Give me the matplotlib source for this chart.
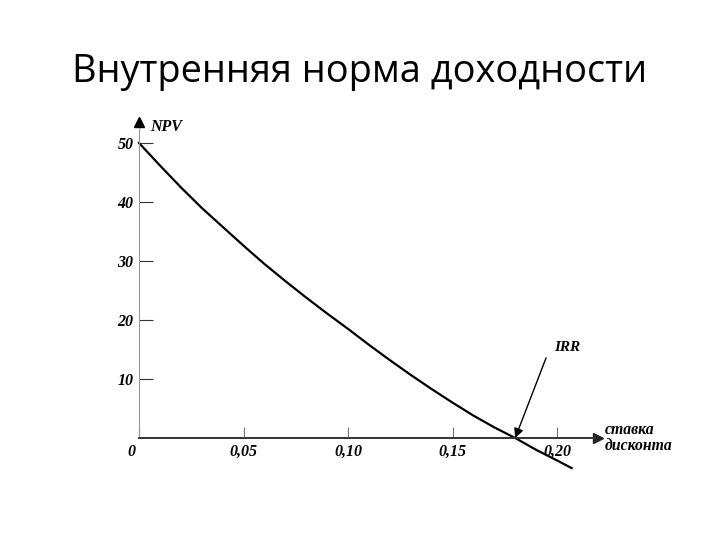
import matplotlib
matplotlib.use('Agg')
from matplotlib import pyplot as plt
from matplotlib import transforms

# данные
rate = [0.00, 0.01, 0.02, 0.03, 0.04, 0.05, 0.06, 0.07, 0.08, 0.09, 0.10,
        0.11, 0.12, 0.13, 0.14, 0.15, 0.16, 0.17, 0.18, 0.19, 0.20, 0.207]
npv = [50.0, 46.2, 42.5, 39.0, 35.8, 32.6, 29.5, 26.6, 23.8, 21.1, 18.5,
       15.8, 13.2, 10.7, 8.3, 6.0, 3.8, 1.8, 0.0, -2.0, -3.8, -5.1]
irr = 0.18
x_ticks = [0, 0.05, 0.10, 0.15, 0.20]
x_labels = ['0', '0,05', '0,10', '0,15', '0,20']
y_ticks = [10, 20, 30, 40, 50]
y_labels = ['10', '20', '30', '40', '50']

title = 'Внутренняя норма доходности'

serif = dict(family='Liberation Serif', style='italic', weight='bold')

fig = plt.figure(figsize=(7.2, 5.4), dpi=100)
fig.text(0.5, 1 - 82 / 540, title, ha='center', va='baseline',
         fontsize=27.4, family='Open Sans', color='black')

ax = fig.add_axes([139 / 720, 1 - 475 / 540, 471 / 720, 355 / 540])
ax.set_xlim(0, 471 / 2090)
ax.set_ylim(-37 / 5.9, 318 / 5.9)

ax.plot(rate, npv, color='black', lw=1.6, clip_on=False)

# оси
for s in ['top', 'right']:
    ax.spines[s].set_visible(False)
ax.spines['left'].set_position(('data', 0))
ax.spines['bottom'].set_position(('data', 0))
ax.spines['left'].set_bounds(0, 52.5)
ax.spines['bottom'].set_bounds(0, 0.218)
ax.spines['left'].set_color('#999999')
ax.spines['left'].set_linewidth(0.8)
ax.spines['bottom'].set_color('#333333')
ax.spines['bottom'].set_linewidth(1.4)
ax.plot([0], [53.5], marker='^', color='black', ms=7, clip_on=False)
ax.plot([0.2195], [0], marker='>', color='#222222', ms=7, clip_on=False)

ax.set_xticks(x_ticks)
ax.set_xticklabels(x_labels, **serif, fontsize=11.5)
ax.set_yticks(y_ticks)
ax.set_yticklabels(y_labels, **serif, fontsize=11.5)
ax.tick_params(axis='x', direction='in', length=8, color='#777777', pad=4)
ax.tick_params(axis='y', direction='in', length=10, color='#333333', pad=4)

# подпись "0" чуть левее начала координат
lbl0 = ax.get_xticklabels()[0]
lbl0.set_transform(lbl0.get_transform() +
                   transforms.ScaledTranslation(-8 / 100, 0, fig.dpi_scale_trans))

ax.text(0.0055, 52.7, 'NPV', va='center', ha='left', fontsize=11.5, **serif)
ax.text(0.2230, 0.0, 'ставка\nдисконта', va='center', ha='left',
        fontsize=11.3, linespacing=1.0, **serif)

# стрелка IRR
ax.annotate('', xy=(irr, 0), xytext=(irr + 0.0148, 13.6),
            arrowprops=dict(arrowstyle='-|>', color='black', lw=1.0,
                            mutation_scale=14, shrinkA=0, shrinkB=0))
ax.text(irr + 0.0185, 15.3, 'IRR', va='center', ha='left', fontsize=11, **serif)

fig.savefig('out.png', dpi=100)
